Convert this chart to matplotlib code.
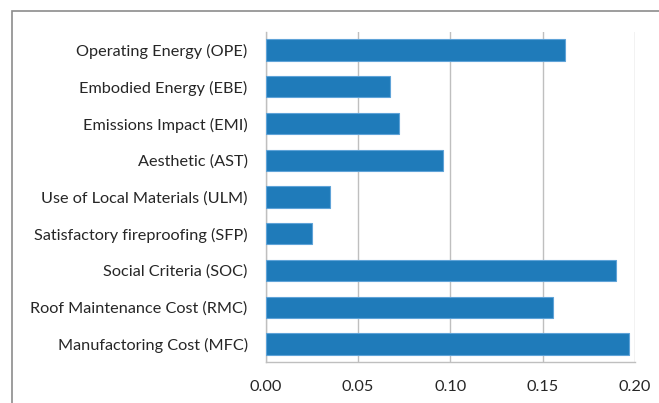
import matplotlib
matplotlib.use("Agg")
import matplotlib.pyplot as plt
from matplotlib.patches import Rectangle

categories = ["Operating Energy (OPE)", "Embodied Energy (EBE)", "Emissions Impact (EMI)",
              "Aesthetic (AST)", "Use of Local Materials (ULM)", "Satisfactory fireproofing (SFP)",
              "Social Criteria (SOC)", "Roof Maintenance Cost (RMC)", "Manufactoring Cost (MFC)"]
values = [0.162, 0.0673, 0.072, 0.0958, 0.035, 0.0249, 0.1897, 0.1558, 0.1969]
xticks = [0.00, 0.05, 0.10, 0.15, 0.20]
xtick_labels = ["0.00", "0.05", "0.10", "0.15", "0.20"]

plt.rcParams['font.family'] = ['Lato', 'DejaVu Sans']

fig = plt.figure(figsize=(6.59, 4.03), dpi=100)
ax = fig.add_axes([265.7/659, 1-362.3/403, (635-265.7)/659, (362.3-31.7)/403])

# outer border (chart area)
fig.patches.append(Rectangle((12/659, -0.1), 1.2, 1 - 11.3/403 + 0.1, transform=fig.transFigure,
                             fill=False, edgecolor="#8c8c8c", linewidth=1.2))

y = list(range(len(categories)))
ax.barh(y, values, height=0.58, color="#1f7bba", edgecolor="#5fa3d8", linewidth=0.8, zorder=3)
ax.set_ylim(len(categories) - 0.5, -0.5)
ax.set_xlim(0, 0.20)
ax.set_yticks(y)
ax.set_yticklabels(categories, fontsize=11.7, color="#262626")
ax.set_xticks(xticks)
ax.set_xticklabels(xtick_labels, fontsize=11.7, color="#262626")
ax.tick_params(axis='both', length=0)
ax.tick_params(axis='y', pad=13)
ax.tick_params(axis='x', pad=13)
ax.grid(axis='x', color="#bfbfbf", linewidth=1.0, zorder=0)
for s in ['top', 'right']:
    ax.spines[s].set_visible(False)
for s in ['left', 'bottom']:
    ax.spines[s].set_color("#bfbfbf")
    ax.spines[s].set_linewidth(1.0)

fig.savefig("out.png", dpi=100)
